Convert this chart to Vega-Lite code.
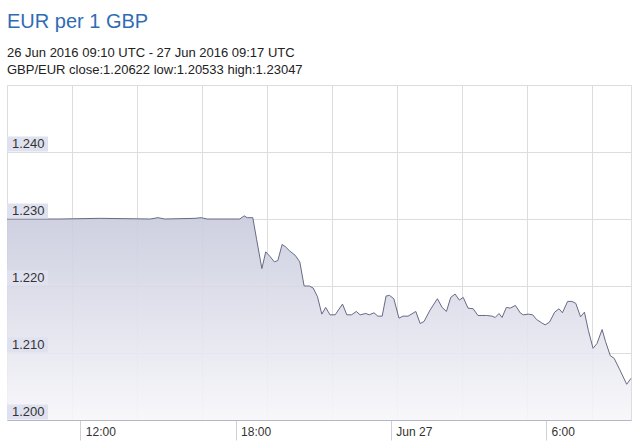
{
  "$schema": "https://vega.github.io/schema/vega-lite/v6.json",
  "width": 624,
  "height": 335,
  "autosize": {"type": "none"},
  "padding": {"left": 7, "top": 85, "right": 2, "bottom": 23},
  "background": "white",
  "title": {
    "text": "EUR per 1 GBP",
    "subtitle": ["26 Jun 2016 09:10 UTC - 27 Jun 2016 09:17 UTC", "GBP/EUR close:1.20622 low:1.20533 high:1.23047"],
    "anchor": "start",
    "frame": "group",
    "font": "Liberation Sans",
    "fontSize": 20,
    "fontWeight": "normal",
    "color": "#2f6cb4",
    "subtitleFont": "Liberation Sans",
    "subtitleFontSize": 13,
    "subtitleColor": "#222222",
    "subtitleLineHeight": 17,
    "subtitlePadding": 15,
    "offset": 8
  },
  "datasets": {
    "series": [
      {"t": "2016-06-26T09:10:00Z", "v": 1.2300},
      {"t": "2016-06-26T11:13:00Z", "v": 1.2300},
      {"t": "2016-06-26T12:46:00Z", "v": 1.2301},
      {"t": "2016-06-26T14:42:00Z", "v": 1.2300},
      {"t": "2016-06-26T15:00:00Z", "v": 1.2302},
      {"t": "2016-06-26T15:16:00Z", "v": 1.2300},
      {"t": "2016-06-26T16:26:00Z", "v": 1.2301},
      {"t": "2016-06-26T16:40:00Z", "v": 1.2302},
      {"t": "2016-06-26T16:54:00Z", "v": 1.2300},
      {"t": "2016-06-26T18:10:00Z", "v": 1.2300},
      {"t": "2016-06-26T18:20:00Z", "v": 1.23047},
      {"t": "2016-06-26T18:27:00Z", "v": 1.2302},
      {"t": "2016-06-26T18:40:00Z", "v": 1.2302},
      {"t": "2016-06-26T18:49:00Z", "v": 1.2269},
      {"t": "2016-06-26T19:01:00Z", "v": 1.2226},
      {"t": "2016-06-26T19:10:00Z", "v": 1.2251},
      {"t": "2016-06-26T19:20:00Z", "v": 1.2244},
      {"t": "2016-06-26T19:30:00Z", "v": 1.2236},
      {"t": "2016-06-26T19:38:00Z", "v": 1.2238},
      {"t": "2016-06-26T19:48:00Z", "v": 1.2262},
      {"t": "2016-06-26T19:55:00Z", "v": 1.2259},
      {"t": "2016-06-26T20:06:00Z", "v": 1.2252},
      {"t": "2016-06-26T20:18:00Z", "v": 1.2246},
      {"t": "2016-06-26T20:29:00Z", "v": 1.2236},
      {"t": "2016-06-26T20:39:00Z", "v": 1.2200},
      {"t": "2016-06-26T20:51:00Z", "v": 1.2200},
      {"t": "2016-06-26T21:00:00Z", "v": 1.2197},
      {"t": "2016-06-26T21:10:00Z", "v": 1.2184},
      {"t": "2016-06-26T21:20:00Z", "v": 1.2158},
      {"t": "2016-06-26T21:29:00Z", "v": 1.2168},
      {"t": "2016-06-26T21:39:00Z", "v": 1.2157},
      {"t": "2016-06-26T21:51:00Z", "v": 1.2157},
      {"t": "2016-06-26T22:08:00Z", "v": 1.2173},
      {"t": "2016-06-26T22:18:00Z", "v": 1.2157},
      {"t": "2016-06-26T22:29:00Z", "v": 1.2157},
      {"t": "2016-06-26T22:40:00Z", "v": 1.2162},
      {"t": "2016-06-26T22:49:00Z", "v": 1.2157},
      {"t": "2016-06-26T23:02:00Z", "v": 1.2159},
      {"t": "2016-06-26T23:10:00Z", "v": 1.2157},
      {"t": "2016-06-26T23:21:00Z", "v": 1.2160},
      {"t": "2016-06-26T23:30:00Z", "v": 1.2155},
      {"t": "2016-06-26T23:40:00Z", "v": 1.2155},
      {"t": "2016-06-26T23:49:00Z", "v": 1.2185},
      {"t": "2016-06-26T23:57:00Z", "v": 1.2186},
      {"t": "2016-06-27T00:07:00Z", "v": 1.2181},
      {"t": "2016-06-27T00:19:00Z", "v": 1.2152},
      {"t": "2016-06-27T00:28:00Z", "v": 1.2155},
      {"t": "2016-06-27T00:40:00Z", "v": 1.2155},
      {"t": "2016-06-27T00:58:00Z", "v": 1.2162},
      {"t": "2016-06-27T01:08:00Z", "v": 1.2144},
      {"t": "2016-06-27T01:17:00Z", "v": 1.2147},
      {"t": "2016-06-27T01:31:00Z", "v": 1.2164},
      {"t": "2016-06-27T01:48:00Z", "v": 1.2181},
      {"t": "2016-06-27T01:59:00Z", "v": 1.2168},
      {"t": "2016-06-27T02:09:00Z", "v": 1.2162},
      {"t": "2016-06-27T02:19:00Z", "v": 1.2183},
      {"t": "2016-06-27T02:29:00Z", "v": 1.2188},
      {"t": "2016-06-27T02:39:00Z", "v": 1.2179},
      {"t": "2016-06-27T02:48:00Z", "v": 1.2183},
      {"t": "2016-06-27T02:59:00Z", "v": 1.2167},
      {"t": "2016-06-27T03:11:00Z", "v": 1.2166},
      {"t": "2016-06-27T03:22:00Z", "v": 1.2156},
      {"t": "2016-06-27T03:42:00Z", "v": 1.2156},
      {"t": "2016-06-27T03:55:00Z", "v": 1.2155},
      {"t": "2016-06-27T04:02:00Z", "v": 1.2153},
      {"t": "2016-06-27T04:11:00Z", "v": 1.2159},
      {"t": "2016-06-27T04:18:00Z", "v": 1.2153},
      {"t": "2016-06-27T04:28:00Z", "v": 1.2168},
      {"t": "2016-06-27T04:37:00Z", "v": 1.2167},
      {"t": "2016-06-27T04:49:00Z", "v": 1.2171},
      {"t": "2016-06-27T05:00:00Z", "v": 1.2160},
      {"t": "2016-06-27T05:07:00Z", "v": 1.2157},
      {"t": "2016-06-27T05:19:00Z", "v": 1.2158},
      {"t": "2016-06-27T05:29:00Z", "v": 1.2157},
      {"t": "2016-06-27T05:38:00Z", "v": 1.2150},
      {"t": "2016-06-27T05:50:00Z", "v": 1.2145},
      {"t": "2016-06-27T05:58:00Z", "v": 1.2142},
      {"t": "2016-06-27T06:08:00Z", "v": 1.2146},
      {"t": "2016-06-27T06:20:00Z", "v": 1.2161},
      {"t": "2016-06-27T06:30:00Z", "v": 1.2166},
      {"t": "2016-06-27T06:38:00Z", "v": 1.2160},
      {"t": "2016-06-27T06:50:00Z", "v": 1.2177},
      {"t": "2016-06-27T07:00:00Z", "v": 1.2177},
      {"t": "2016-06-27T07:09:00Z", "v": 1.2174},
      {"t": "2016-06-27T07:20:00Z", "v": 1.2154},
      {"t": "2016-06-27T07:29:00Z", "v": 1.2161},
      {"t": "2016-06-27T07:38:00Z", "v": 1.2134},
      {"t": "2016-06-27T07:49:00Z", "v": 1.2107},
      {"t": "2016-06-27T07:58:00Z", "v": 1.2114},
      {"t": "2016-06-27T08:10:00Z", "v": 1.2135},
      {"t": "2016-06-27T08:18:00Z", "v": 1.2117},
      {"t": "2016-06-27T08:29:00Z", "v": 1.2096},
      {"t": "2016-06-27T08:38:00Z", "v": 1.2092},
      {"t": "2016-06-27T08:51:00Z", "v": 1.2075},
      {"t": "2016-06-27T09:07:00Z", "v": 1.20533},
      {"t": "2016-06-27T09:17:00Z", "v": 1.20622}
    ],
    "labels": [
      {"v": 1.20},
      {"v": 1.21},
      {"v": 1.22},
      {"v": 1.23},
      {"v": 1.24}
    ]
  },
  "resolve": {"axis": {"x": "independent"}},
  "layer": [
    {
      "data": {"name": "series"},
      "mark": {
        "type": "area",
        "fillOpacity": 0.9,
        "color": {
          "gradient": "linear",
          "x1": 0, "y1": 0, "x2": 0, "y2": 1,
          "stops": [
            {"offset": 0, "color": "#c9cbdd"},
            {"offset": 0.5, "color": "#dfe0eb"},
            {"offset": 1, "color": "#f7f7fa"}
          ]
        },
        "line": {"color": "#666b86", "strokeWidth": 1}
      },
      "encoding": {
        "x": {
          "field": "t",
          "type": "temporal",
          "title": null,
          "scale": {
            "domain": [
              {"year": 2016, "month": 6, "date": 26, "hours": 9, "minutes": 10, "utc": true},
              {"year": 2016, "month": 6, "date": 27, "hours": 9, "minutes": 17, "utc": true}
            ]
          },
          "axis": {
            "orient": "bottom",
            "grid": false,
            "values": [
              {"year": 2016, "month": 6, "date": 26, "hours": 12, "utc": true},
              {"year": 2016, "month": 6, "date": 26, "hours": 18, "utc": true},
              {"year": 2016, "month": 6, "date": 27, "hours": 0, "utc": true},
              {"year": 2016, "month": 6, "date": 27, "hours": 6, "utc": true}
            ],
            "labelExpr": "utchours(datum.value) == 0 ? 'Jun 27' : utchours(datum.value) + ':00'",
            "labelAlign": "left",
            "labelBaseline": "middle",
            "labelOffset": 5,
            "labelPadding": -9,
            "labelFont": "Liberation Sans",
            "labelFontSize": 12,
            "labelColor": "#333333",
            "tickSize": 20,
            "tickColor": "#d0d0d8",
            "domainColor": "#b4b6c8",
            "labelFlush": false,
            "labelOverlap": false
          }
        },
        "y": {
          "field": "v",
          "type": "quantitative",
          "title": null,
          "scale": {"domain": [1.2, 1.25], "nice": false, "zero": false},
          "axis": {
            "values": [1.2, 1.21, 1.22, 1.23, 1.24, 1.25],
            "labels": false,
            "ticks": false,
            "domain": false,
            "grid": true,
            "gridColor": "#dddddd"
          }
        },
        "y2": {"datum": 1.2}
      }
    },
    {
      "data": {"name": "labels"},
      "mark": {"type": "rect", "width": 41, "height": 15, "xOffset": 20.5, "yOffset": -8, "color": "#dfe1ef"},
      "encoding": {
        "x": {
          "datum": {"year": 2016, "month": 6, "date": 26, "hours": 9, "minutes": 10, "utc": true},
          "type": "temporal",
          "axis": {
            "orient": "top",
            "labels": false,
            "ticks": false,
            "domain": false,
            "grid": true,
            "gridColor": "#dddddd",
            "title": null,
            "values": [
              {"year": 2016, "month": 6, "date": 26, "hours": 11, "minutes": 41, "utc": true},
              {"year": 2016, "month": 6, "date": 26, "hours": 14, "minutes": 11, "seconds": 30, "utc": true},
              {"year": 2016, "month": 6, "date": 26, "hours": 16, "minutes": 42, "utc": true},
              {"year": 2016, "month": 6, "date": 26, "hours": 19, "minutes": 13, "utc": true},
              {"year": 2016, "month": 6, "date": 26, "hours": 21, "minutes": 44, "utc": true},
              {"year": 2016, "month": 6, "date": 27, "hours": 0, "minutes": 14, "seconds": 30, "utc": true},
              {"year": 2016, "month": 6, "date": 27, "hours": 2, "minutes": 45, "utc": true},
              {"year": 2016, "month": 6, "date": 27, "hours": 5, "minutes": 16, "utc": true},
              {"year": 2016, "month": 6, "date": 27, "hours": 7, "minutes": 47, "utc": true}
            ]
          }
        },
        "y": {
          "field": "v",
          "type": "quantitative",
          "title": null,
          "axis": {
            "values": [1.2, 1.21, 1.22, 1.23, 1.24, 1.25],
            "labels": false,
            "ticks": false,
            "domain": false,
            "grid": true,
            "gridColor": "#dddddd"
          }
        }
      }
    },
    {
      "data": {"name": "labels"},
      "mark": {"type": "text", "align": "left", "baseline": "middle", "dx": 5, "dy": -8, "font": "Liberation Sans", "fontSize": 13, "color": "#333333"},
      "encoding": {
        "x": {
          "datum": {"year": 2016, "month": 6, "date": 26, "hours": 9, "minutes": 10, "utc": true},
          "type": "temporal",
          "axis": null
        },
        "y": {
          "field": "v",
          "type": "quantitative",
          "title": null,
          "axis": {
            "values": [1.2, 1.21, 1.22, 1.23, 1.24, 1.25],
            "labels": false,
            "ticks": false,
            "domain": false,
            "grid": true,
            "gridColor": "#dddddd"
          }
        },
        "text": {"field": "v", "type": "quantitative", "format": ".3f"}
      }
    }
  ],
  "config": {
    "view": {"stroke": "#dddddd"},
    "font": "Liberation Sans"
  }
}
